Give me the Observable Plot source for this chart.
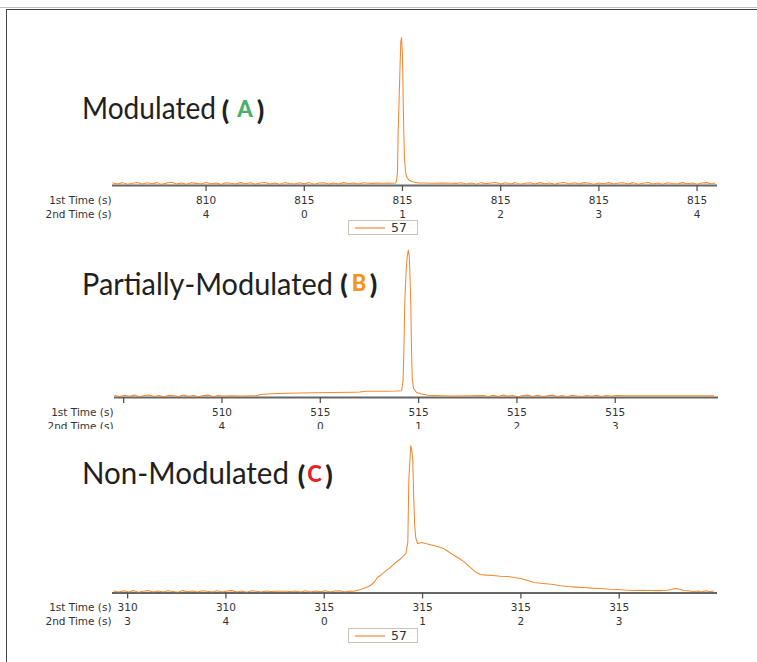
<!DOCTYPE html>
<html>
<head>
<meta charset="utf-8">
<script src="https://cdn.jsdelivr.net/npm/d3@7"></script>
<script src="https://cdn.jsdelivr.net/npm/@observablehq/plot@0.6"></script>
<style>
  body { margin: 0; background: #fff; }
  #root { position: relative; width: 757px; height: 662px; overflow: hidden; background: #fff; }
  .abs { position: absolute; }
  .legend { position: absolute; width: 70px; height: 15px; box-sizing: border-box; border: 1px solid #cbc4b6; background: #fff;
            font-family: "DejaVu Sans", sans-serif; font-size: 12.5px; color: #333; }
  .legend svg { position: absolute; left: 0; top: 0; }
  .legend .tx { position: absolute; left: 42px; top: -1px; line-height: 15px; }
</style>
</head>
<body>
<div id="root"></div>
<script>
// ---------------- data ----------------
const titles = ["Modulated", "Partially-Modulated", "Non-Modulated"];
const titleLetters = ["A", "B", "C"];
const letterColors = ["#4cae6c", "#f7941d", "#e4222a"];
const legendLabel = "57";
const rowLabels = "1st Time (s)\n2nd Time (s)";

const ticksA = [814, 815, 816, 817, 818, 819];
const labA1 = ["810", "815", "815", "815", "815", "815"];
const labA2 = ["4", "0", "1", "2", "3", "4"];

const ticksB = [513, 514, 515, 516, 517, 518];
const labB1 = ["", "510", "515", "515", "515", "515"];
const labB2 = ["", "4", "0", "1", "2", "3"];

const ticksC = [313, 314, 315, 316, 317, 318];
const labC1 = ["310", "310", "315", "315", "315", "315"];
const labC2 = ["3", "4", "0", "1", "2", "3"];

// [time (s), signal (% of peak)]
const traceA = [
  [813.05,0.4],[813.10,-0.3],[813.15,0.6],[813.20,-0.5],[813.25,0.2],[813.30,0.7],[813.35,-0.4],[813.40,0.5],
  [813.45,-0.2],[813.50,0.6],[813.55,-0.6],[813.60,0.3],[813.65,0.8],[813.70,-0.3],[813.75,0.4],[813.80,-0.5],
  [813.85,0.5],[813.90,0.1],[813.95,-0.4],[814.00,0.7],[814.05,-0.2],[814.10,0.4],[814.15,-0.6],[814.20,0.5],
  [814.25,0.2],[814.30,-0.4],[814.35,0.6],[814.40,-0.1],[814.45,0.5],[814.50,-0.5],[814.55,0.3],[814.60,0.7],
  [814.65,-0.3],[814.70,0.4],[814.75,-0.5],[814.80,0.6],[814.85,0.0],[814.90,-0.4],[814.95,0.5],[815.00,-0.2],
  [815.05,0.6],[815.10,-0.5],[815.15,0.3],[815.20,0.5],[815.25,-0.3],[815.30,0.4],[815.35,-0.4],[815.40,0.6],
  [815.45,-0.1],[815.50,0.4],[815.55,-0.3],[815.60,0.5],[815.65,0.2],[815.70,0.1],[815.75,0.3],[815.80,0.2],
  [815.85,0.3],[815.90,0.2],
  [815.929,0.4],[815.939,1.5],[815.949,8],[815.956,36],[815.966,58],[815.975,80],[815.983,97],[815.990,100],
  [815.997,92],[816.003,78],[816.007,58],[816.013,36],[816.020,18],[816.031,8],[816.046,4],[816.071,2],
  [816.112,1],[816.163,0.4],[816.22,0.3],[816.30,0.2],[816.40,0.3],[816.50,0.2],[816.56,0.1],
  [816.60,0.5],[816.65,-0.3],[816.70,0.4],[816.75,-0.5],[816.80,0.6],[816.85,-0.2],[816.90,0.3],[816.95,0.7],
  [817.00,-0.4],[817.05,0.5],[817.10,-0.3],[817.15,0.6],[817.20,-0.5],[817.25,0.2],[817.30,0.5],[817.35,-0.4],
  [817.40,0.6],[817.45,-0.2],[817.50,0.4],[817.55,-0.6],[817.60,0.3],[817.65,0.7],[817.70,-0.3],[817.75,0.5],
  [817.80,-0.4],[817.85,0.6],[817.90,0.1],[817.95,-0.5],[818.00,0.4],[818.05,-0.2],[818.10,0.6],[818.15,-0.4],
  [818.20,0.3],[818.25,0.5],[818.30,-0.3],[818.35,0.6],[818.40,-0.5],[818.45,0.2],[818.50,0.7],[818.55,-0.3],
  [818.60,0.4],[818.65,-0.5],[818.70,0.5],[818.75,0.0],[818.80,-0.4],[818.85,0.6],[818.90,-0.2],[818.95,0.4],
  [819.00,-0.5],[819.05,0.3],[819.10,0.6],[819.15,-0.3],[819.18,0.3]
];

const traceB = [
  [512.91,0.3],[512.96,-0.4],[513.01,0.5],[513.06,-0.2],[513.11,0.6],[513.16,-0.5],[513.21,0.3],[513.26,0.7],
  [513.31,-0.3],[513.36,0.4],[513.41,-0.5],[513.46,0.5],[513.51,0.1],[513.56,-0.4],[513.61,0.6],[513.66,-0.2],
  [513.71,0.4],[513.76,-0.5],[513.81,0.3],[513.86,0.6],[513.91,-0.3],[513.96,0.4],[514.01,0.0],
  [514.10,0.1],[514.20,0.0],[514.30,0.2],[514.35,0.1],
  [514.393,1.0],[514.494,1.5],[514.667,1.9],[514.80,2.0],[514.932,2.2],[515.105,2.4],[515.339,2.6],
  [515.40,2.7],[515.461,3.2],[515.664,3.3],[515.766,3.4],[515.827,3.6],
  [515.842,10.6],[515.850,31],[515.860,65],[515.873,86],[515.885,96],[515.895,100],[515.905,95.5],
  [515.912,82.5],[515.920,65],[515.928,31],[515.935,12],[515.949,5],[515.979,2.4],[516.020,1.5],
  [516.092,0.5],[516.224,0.2],[516.33,0.0],[516.53,0.2],
  [516.66,0.4],[516.71,-0.3],[516.76,0.5],[516.81,-0.4],[516.86,0.6],[516.91,-0.1],[516.96,0.4],[517.01,-0.5],
  [517.06,0.3],[517.11,0.6],[517.16,-0.3],[517.21,0.5],[517.26,-0.4],[517.31,0.2],[517.36,0.6],[517.41,-0.3],
  [517.46,0.4],[517.51,-0.5],[517.56,0.5],[517.61,0.0],[517.66,-0.3],[517.71,0.4],[517.76,-0.2],[517.81,0.5],
  [517.86,-0.3],[517.91,0.4],[517.96,-0.2],[518.01,0.3],
  [518.10,0.1],[518.30,0.2],[518.50,0.1],[518.70,0.2],[518.90,0.1],[519.00,0.1]
];

const traceC = [
  [312.86,0.3],[312.91,-0.4],[312.96,0.5],[313.01,-0.3],[313.06,0.6],[313.11,-0.5],[313.16,0.2],[313.21,0.6],
  [313.26,-0.4],[313.31,0.4],[313.36,-0.3],[313.41,0.5],[313.46,0.0],[313.51,-0.5],[313.56,0.6],[313.61,-0.2],
  [313.66,0.4],[313.71,-0.4],[313.76,0.5],[313.81,0.2],[313.86,-0.3],[313.91,0.5],[313.96,-0.4],[314.01,0.3],
  [314.06,0.6],[314.11,-0.3],[314.16,0.4],[314.21,-0.5],[314.26,0.5],[314.31,0.1],[314.36,-0.3],[314.41,0.4],
  [314.46,0.0],[314.51,0.2],[314.56,0.1],[314.61,0.2],[314.66,0.0],[314.71,0.3],[314.76,-0.3],[314.81,0.5],
  [314.86,-0.4],[314.91,0.4],[314.96,-0.2],[315.01,0.5],[315.06,-0.4],[315.11,0.3],[315.16,0.5],[315.21,-0.3],
  [315.26,0.4],[315.30,0.2],
  [315.37,1.4],[315.42,2.5],[315.47,4.1],[315.51,6.5],[315.54,9.6],[315.58,11.5],[315.62,13.8],[315.67,16.4],
  [315.72,19.5],[315.78,22.6],[315.83,26.0],[315.85,33.6],[315.86,76],[315.875,94],[315.88,100],[315.89,97],
  [315.90,90],[315.91,64],[315.92,45],[315.93,37],[315.95,32.9],
  [315.99,33.5],[316.03,32.8],[316.07,32.2],[316.11,31.5],[316.16,30.6],[316.21,29.5],[316.26,27.4],[316.32,24.7],
  [316.37,22.8],[316.42,20.5],[316.47,17.4],[316.52,14.4],[316.55,12.8],[316.59,11.6],[316.65,11.2],[316.72,11.0],
  [316.79,10.4],[316.86,10.3],[316.93,9.6],[317.00,8.9],[317.07,7.6],[317.13,6.2],[317.23,5.5],[317.33,4.8],
  [317.40,4.0],[317.48,3.4],[317.56,3.0],[317.64,2.7],[317.72,2.3],[317.81,2.1],[317.90,1.6],[317.98,1.4],
  [318.06,1.0],[318.15,0.7],[318.24,0.8],[318.32,0.7],[318.40,0.6],[318.49,0.8],[318.53,1.4],[318.57,2.1],
  [318.61,1.6],[318.66,0.7],[318.72,0.3],[318.76,-0.2],[318.80,0.4],[318.84,-0.3],[318.88,0.5],[318.92,-0.2],
  [318.96,0.3]
];

// ---------------- drawing ----------------
const root = document.getElementById("root");
const LINE = "#f28a34";

function panel(o) {
  const lab = t => { const i = o.ticks.indexOf(t); return o.lab1[i] + "\n" + o.lab2[i]; };
  const svg = Plot.plot({
    width: 757,
    height: o.height,
    marginTop: 0,
    marginLeft: o.left,
    marginRight: 757 - o.right,
    marginBottom: o.height - o.axisY,
    x: {domain: o.xDomain},
    y: {domain: o.yDomain, axis: null},
    style: {background: "transparent", color: "#333", fontFamily: "'DejaVu Sans', sans-serif", overflow: "hidden"},
    marks: [
      Plot.ruleY([o.yDomain[0]], {stroke: "#666", strokeWidth: 2}),
      Plot.line(o.data, {x: d => d[0], y: d => d[1], stroke: LINE, strokeWidth: 1.05, clip: true}),
      Plot.axisX({ticks: o.ticks, tickFormat: lab, tickSize: 6, tickPadding: 2, fontSize: 10.5,
                  lineHeight: 1.36, stroke: "#555", strokeWidth: 1.3, label: null}),
      Plot.text([rowLabels], {text: d => d, frameAnchor: "bottom-left", textAnchor: "end", lineAnchor: "top",
                  dx: -1, dy: 8, fontSize: 10.5, lineHeight: 1.36, fill: "#333"})
    ]
  });
  const wrap = document.createElement("div");
  wrap.className = "abs";
  wrap.style.left = "0px";
  wrap.style.top = o.top + "px";
  wrap.style.width = "757px";
  wrap.style.height = o.height + "px";
  wrap.style.overflow = "hidden";
  wrap.appendChild(svg);
  root.appendChild(wrap);
}

// Panel A: page y 28..228, axis at 185
panel({data: traceA, ticks: ticksA, lab1: labA1, lab2: labA2, top: 28, height: 200, axisY: 157,
       left: 112, right: 717, xDomain: [813.047, 819.208], yDomain: [-1.37, 106.2]});
// Panel B: page y 240..429, axis at 397 (second label row clipped as in the original)
panel({data: traceB, ticks: ticksB, lab1: labB1, lab2: labB2, top: 240, height: 189, axisY: 157,
       left: 114, right: 718, xDomain: [512.907, 519.05], yDomain: [-1.03, 106.5]});
// Panel C: page y 435..635, axis at 592.5
panel({data: traceC, ticks: ticksC, lab1: labC1, lab2: labC2, top: 435, height: 200, axisY: 157.5,
       left: 112, right: 717, xDomain: [312.846, 319.0], yDomain: [-1.03, 106.85]});

// frame lines
function box(css) { const d = document.createElement("div"); d.className = "abs"; Object.assign(d.style, css); root.appendChild(d); }
box({left: "0px", top: "7px", width: "757px", height: "1px", background: "#bdbdbd"});
box({left: "6px", top: "9px", width: "751px", height: "1px", background: "#444"});
box({left: "6px", top: "9px", width: "1px", height: "653px", background: "#444"});

// legends
function legend(top) {
  const d = document.createElement("div");
  d.className = "legend";
  d.style.left = "348px";
  d.style.top = top + "px";
  d.innerHTML = '<svg width="68" height="13"><line x1="6" x2="36" y1="7" y2="7" stroke="' + LINE +
                '" stroke-width="1.2"/></svg><div class="tx"></div>';
  d.querySelector(".tx").textContent = legendLabel;
  root.appendChild(d);
}
legend(220);
legend(628);

// titles
const NS = "http://www.w3.org/2000/svg";
const tsvg = document.createElementNS(NS, "svg");
tsvg.setAttribute("width", 757); tsvg.setAttribute("height", 662);
tsvg.setAttribute("style", "position:absolute;left:0;top:0;pointer-events:none");
root.appendChild(tsvg);
function t(x, y, str, attrs) {
  const e = document.createElementNS(NS, "text");
  e.setAttribute("x", x); e.setAttribute("y", y);
  e.setAttribute("font-family", "Lato, 'Noto Sans', sans-serif");
  for (const k in attrs) e.setAttribute(k, attrs[k]);
  e.textContent = str;
  tsvg.appendChild(e);
}
const titleLayout = [
  {y: 119, w: 134, yb: 117, p1: 225.5, l: 245, p2: 260.5},
  {y: 295, w: 251, yb: 291, p1: 344, l: 359, p2: 373.5},
  {y: 484, w: 207, yb: 482, p1: 301.5, l: 314.5, p2: 329}
];
titles.forEach((s, i) => {
  const L = titleLayout[i];
  t(82, L.y, s, {"font-size": 30, fill: "#231f20", textLength: L.w, lengthAdjust: "spacingAndGlyphs"});
  t(L.p1, L.yb + 2.5, "(", {"font-size": 27, "font-weight": 900, fill: "#231f20", "text-anchor": "middle"});
  t(L.l, L.yb, titleLetters[i], {"font-size": 22, "font-weight": 900, fill: letterColors[i], "text-anchor": "middle"});
  t(L.p2, L.yb + 2.5, ")", {"font-size": 27, "font-weight": 900, fill: "#231f20", "text-anchor": "middle"});
});
</script>
</body>
</html>
